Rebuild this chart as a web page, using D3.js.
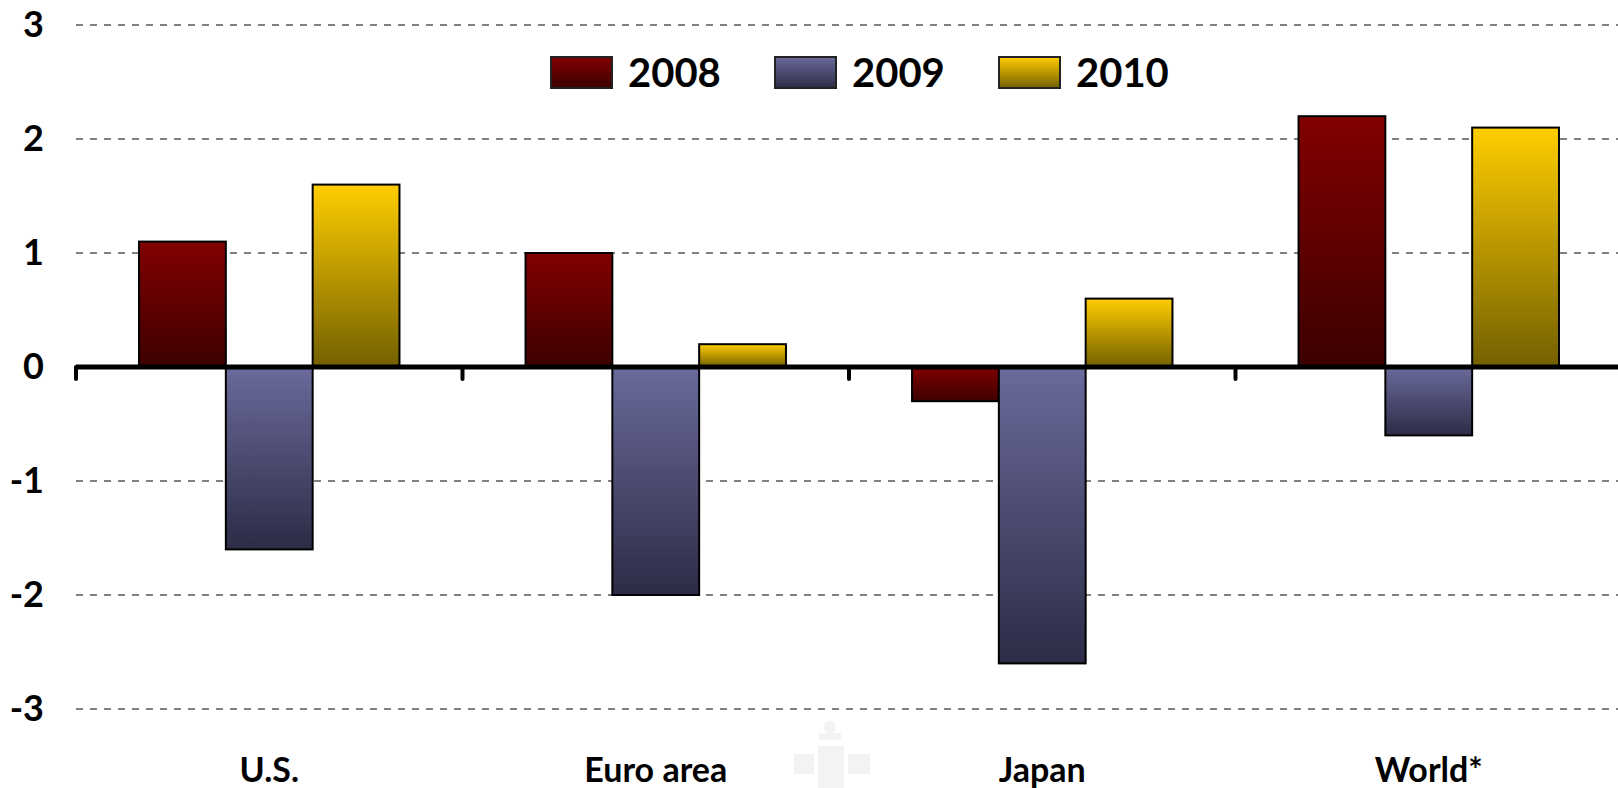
<!DOCTYPE html>
<html>
<head>
<meta charset="utf-8">
<script src="https://cdn.jsdelivr.net/npm/d3@7"></script>
<style>
	html, body { margin: 0; padding: 0; background: white; }
	svg { display: block; }
</style>
</head>
<body>
<div id="chart"></div>
<script>
// data
const categories = ["U.S.", "Euro area", "Japan", "World*"];
const years = ["2008", "2009", "2010"];
const values2008 = [1.1, 1.0, -0.3, 2.2];
const values2009 = [-1.6, -2.0, -2.6, -0.6];
const values2010 = [1.6, 0.2, 0.6, 2.1];
const yTicks = [-3, -2, -1, 0, 1, 2, 3];

const seriesValues = [values2008, values2009, values2010];
const gradients = [
	["#820000", "#3c0000"],
	["#6a6a9c", "#2c2c46"],
	["#ffcd00", "#736000"]
];

const width = 1618, height = 788;

let svg = d3.select("#chart")
	.append("svg")
	.attr("width", width)
	.attr("height", height);

let defs = svg.append("defs");
years.forEach((yr, i) => {
	let g = defs.append("linearGradient")
		.attr("id", "grad" + yr)
		.attr("x1", 0).attr("y1", 0)
		.attr("x2", 0).attr("y2", 1);
	g.append("stop").attr("offset", "0%").attr("stop-color", gradients[i][0]);
	g.append("stop").attr("offset", "100%").attr("stop-color", gradients[i][1]);
});

let y = d3.scaleLinear()
	.domain([-3, 3])
	.range([709, 25]);

// the last band runs a bit past the right edge, like the original
let x = d3.scaleBand()
	.domain(categories)
	.range([76, 1622])
	.padding(0);

let xs = d3.scaleBand()
	.domain(years)
	.range([0, x.bandwidth()])
	.paddingInner(0)
	.paddingOuter(0.726);

// faint watermark crest
let wm = svg.append("g").attr("fill", "#f3f3f3");
wm.append("circle").attr("cx", 830).attr("cy", 727).attr("r", 6);
wm.append("rect").attr("x", 819).attr("y", 733).attr("width", 22).attr("height", 7);
wm.append("rect").attr("x", 794).attr("y", 754).attr("width", 20).attr("height", 20);
wm.append("rect").attr("x", 848).attr("y", 754).attr("width", 22).attr("height", 20);
wm.append("rect").attr("x", 818).attr("y", 746).attr("width", 26).attr("height", 42);

// gridlines
svg.append("g")
	.selectAll("line")
	.data(yTicks.filter(d => d != 0))
	.join("line")
	.attr("x1", 76)
	.attr("x2", width)
	.attr("y1", d => y(d))
	.attr("y2", d => y(d))
	.attr("stroke", "#555")
	.attr("stroke-width", 1.5)
	.attr("stroke-dasharray", "7,7");

// y axis labels
let yAxis = svg.append("g")
	.attr("transform", "translate(52,0)")
	.call(d3.axisLeft(y).tickValues(yTicks).tickSize(0).tickPadding(8).tickFormat(d => String(d)));
yAxis.select(".domain").remove();
yAxis.selectAll("text")
	.attr("font-family", "Lato, 'Open Sans', sans-serif")
	.attr("font-weight", "bold")
	.attr("font-size", 36)
	.attr("fill", "black");

// bars
let groups = svg.append("g")
	.selectAll("g")
	.data(categories)
	.join("g")
	.attr("transform", d => "translate(" + x(d) + ",0)");

groups.selectAll("rect")
	.data((d, ci) => years.map((yr, si) => ({ year: yr, value: seriesValues[si][ci] })))
	.join("rect")
	.attr("x", d => xs(d.year))
	.attr("width", xs.bandwidth())
	.attr("y", d => y(Math.max(0, d.value)))
	.attr("height", d => Math.abs(y(d.value) - y(0)))
	.attr("fill", d => "url(#grad" + d.year + ")")
	.attr("stroke", "black")
	.attr("stroke-width", 2);

// zero axis line and ticks
svg.append("line")
	.attr("x1", 76)
	.attr("x2", width)
	.attr("y1", y(0))
	.attr("y2", y(0))
	.attr("stroke", "black")
	.attr("stroke-width", 5);

svg.append("g")
	.selectAll("line")
	.data(categories)
	.join("line")
	.attr("x1", d => x(d))
	.attr("x2", d => x(d))
	.attr("y1", y(0))
	.attr("y2", y(0) + 12)
	.attr("stroke", "black")
	.attr("stroke-width", 4)
	.attr("stroke-linecap", "round");

// category labels
svg.append("g")
	.selectAll("text")
	.data(categories)
	.join("text")
	.attr("x", d => x(d) + x.bandwidth() / 2)
	.attr("y", 782)
	.attr("text-anchor", "middle")
	.attr("font-family", "Lato, 'Open Sans', sans-serif")
	.attr("font-weight", "bold")
	.attr("font-size", 34)
	.text(d => d);

// legend
let legend = svg.append("g")
	.selectAll("g")
	.data(years)
	.join("g")
	.attr("transform", (d, i) => "translate(" + (551 + i * 224) + ",57)");

legend.append("rect")
	.attr("width", 61)
	.attr("height", 31)
	.attr("fill", d => "url(#grad" + d + ")")
	.attr("stroke", "#222")
	.attr("stroke-width", 2);

legend.append("text")
	.attr("x", 77)
	.attr("y", 30)
	.attr("font-family", "Lato, 'Open Sans', sans-serif")
	.attr("font-weight", "bold")
	.attr("font-size", 40)
	.text(d => d);
</script>
</body>
</html>
